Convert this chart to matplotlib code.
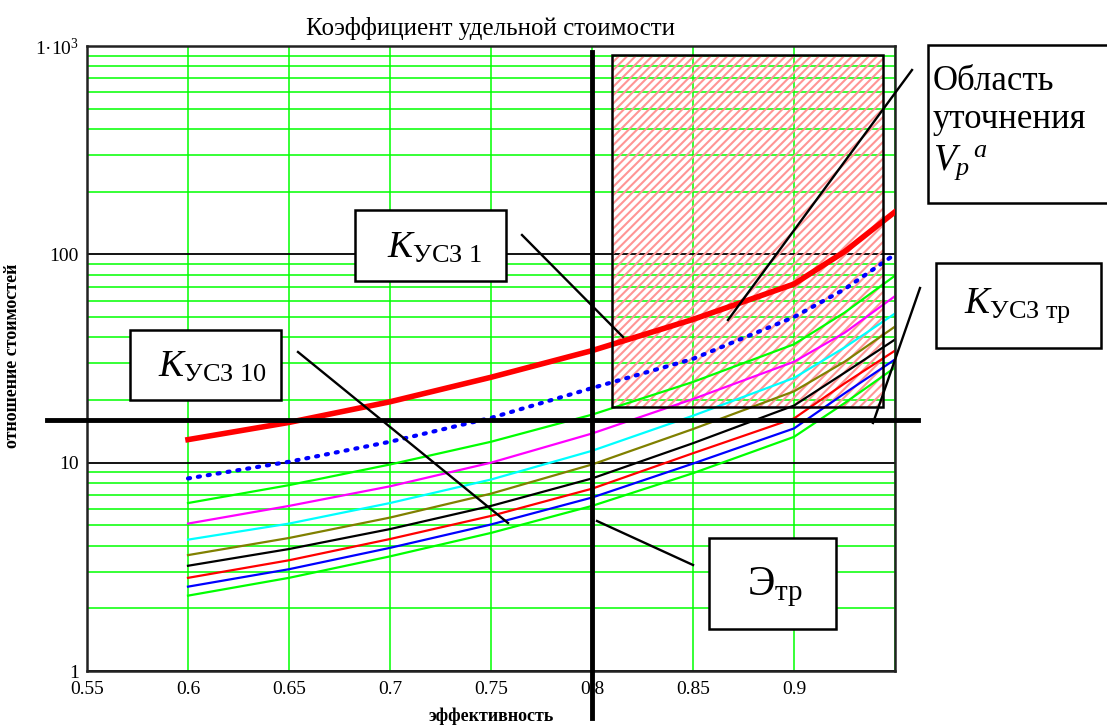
import matplotlib
matplotlib.use("Agg")
import matplotlib.pyplot as plt
from matplotlib.patches import Rectangle
from matplotlib.lines import Line2D
from matplotlib.ticker import LogLocator, NullFormatter, FixedLocator

plt.rcParams['font.family'] = ['Liberation Serif', 'DejaVu Serif']
plt.rcParams['mathtext.fontset'] = 'custom'
plt.rcParams['mathtext.rm'] = 'Liberation Serif'
plt.rcParams['mathtext.it'] = 'Liberation Serif:italic'
plt.rcParams['hatch.linewidth'] = 1.5

# data
eff = [0.6, 0.65, 0.7, 0.75, 0.8, 0.85, 0.9, 0.925, 0.95]
k1 = [12.9, 15.6, 19.6, 25.7, 34.5, 48.7, 72, 103, 160]
k2 = [8.4, 10.1, 12.6, 16.4, 22.8, 31.5, 50, 68, 100]
k3 = [6.4, 7.8, 9.8, 12.6, 17, 24.4, 37, 52.5, 79]
k4 = [5.1, 6.2, 7.7, 10, 13.8, 20.2, 30.5, 42, 63]
k5 = [4.27, 5.1, 6.4, 8.3, 11.4, 16.8, 25.5, 35.7, 52]
k6 = [3.6, 4.35, 5.45, 7.1, 9.8, 14.5, 22, 30.5, 45]
k7 = [3.2, 3.85, 4.8, 6.2, 8.4, 12.4, 18.8, 27, 39]
k8 = [2.8, 3.4, 4.3, 5.55, 7.5, 11.1, 16.3, 24, 34.5]
k9 = [2.54, 3.08, 3.9, 5.05, 6.8, 9.9, 14.6, 21.5, 31.3]
k10 = [2.3, 2.8, 3.55, 4.6, 6.2, 8.9, 13.3, 19.3, 28.6]

thin_curves = [k3, k4, k5, k6, k7, k8, k9, k10]
thin_colors = ['#00ff00', '#ff00ff', '#00ffff', '#808000', '#000000', '#ff0000', '#0000ff', '#00ff00']

eff_tr = 0.8          # required efficiency
k_tr = 16             # required coefficient
region_x = [0.81, 0.944]
region_y = [18.6, 910]

x_ticks = [0.55, 0.6, 0.65, 0.7, 0.75, 0.8, 0.85, 0.9, 0.95]
x_labels = ['0.55', '0.6', '0.65', '0.7', '0.75', '0.8', '0.85', '0.9', '']
y_ticks = [1, 10, 100, 1000]
y_labels = ['1', '10', '100', '1·10$^3$']

W, H = 1107, 726
fig = plt.figure(figsize=(W / 100, H / 100), dpi=100)
ax = fig.add_axes([87 / W, 1 - 671 / H, 808 / W, 625 / H])

ax.set_yscale('log')
ax.set_xlim(0.55, 0.95)
ax.set_ylim(1, 1000)
ax.xaxis.set_major_locator(FixedLocator(x_ticks))
ax.set_xticklabels(x_labels)
ax.yaxis.set_major_locator(FixedLocator(y_ticks))
ax.set_yticklabels(y_labels)
ax.yaxis.set_minor_locator(LogLocator(base=10, subs=range(2, 10)))
ax.yaxis.set_minor_formatter(NullFormatter())
ax.tick_params(which='both', length=0, labelsize=14)
ax.tick_params(axis='x', pad=7)
ax.tick_params(axis='y', pad=6)

ax.set_axisbelow(True)
ax.xaxis.grid(True, which='major', color='#00ff00', lw=1.1)
ax.yaxis.grid(True, which='minor', color='#00ff00', lw=1.1)
ax.yaxis.grid(True, which='major', color='black', lw=1.3)
for s in ax.spines.values():
    s.set_linewidth(1.8)
    s.set_color('#222222')

# hatched refinement region
rx0, rx1 = region_x
ry0, ry1 = region_y
ax.add_patch(Rectangle((rx0, ry0), rx1 - rx0, ry1 - ry0, facecolor='none',
                       edgecolor='#ff9595', hatch='////', lw=0, zorder=1))
ax.add_patch(Rectangle((rx0, ry0), rx1 - rx0, ry1 - ry0, facecolor='none',
                       edgecolor='black', lw=1.8, zorder=4))

for vals, c in zip(thin_curves, thin_colors):
    ax.plot(eff, vals, color=c, lw=1.6, zorder=2)
ax.plot(eff, k2, color='#0000ff', lw=3, ls=(0, (0.5, 1.9)),
        dash_capstyle='round', zorder=2)
ax.plot(eff, k1, color='#ff0000', lw=4, zorder=3)

ax.axhline(k_tr, xmin=-0.05, xmax=1.029, color='black', lw=3.5,
           clip_on=False, zorder=5)
ax.axvline(eff_tr, ymin=-0.075, ymax=0.99, color='black', lw=3.5,
           clip_on=False, zorder=5)

ax.set_title('Коэффициент удельной стоимости', fontsize=18, pad=8)
ax.set_xlabel('эффективность', fontsize=13, fontweight='bold')
ax.xaxis.set_label_coords(0.5, -0.058)
ax.set_ylabel('отношение стоимостей', fontsize=13, fontweight='bold')
ax.yaxis.set_label_coords(-0.082, 0.505)


def fp(x, y):
    return x / W, 1 - y / H


def box(x0, y0, x1, y1):
    a, b = fp(x0, y1)
    c, d = fp(x1, y0)
    fig.add_artist(Rectangle((a, b), c - a, d - b, transform=fig.transFigure,
                             facecolor='white', edgecolor='black', lw=1.8, zorder=6))


def leader(x0, y0, x1, y1):
    a, b = fp(x0, y0)
    c, d = fp(x1, y1)
    fig.add_artist(Line2D([a, c], [b, d], transform=fig.transFigure,
                          color='black', lw=1.7, zorder=7))


# annotation boxes
box(355, 210, 506, 281)
fig.text(*fp(387, 258), r'$K_{\mathrm{УСЗ\ 1}}$', fontsize=27, zorder=8)
leader(522, 235, 623, 337)

box(130, 330, 281, 400)
fig.text(*fp(158, 377), r'$K_{\mathrm{УСЗ\ 10}}$', fontsize=27, zorder=8)
leader(298, 352, 508, 523)

box(709, 538, 836, 629)
fig.text(*fp(747, 595), r'$\mathrm{Э}_{\mathrm{тр}}$', fontsize=30, zorder=8)
leader(597, 521, 693, 565)

box(928, 45, 1112, 203)
fig.text(*fp(933, 90), 'Область', fontsize=25, zorder=8)
fig.text(*fp(933, 128), 'уточнения', fontsize=25, zorder=8)
fig.text(*fp(933, 170), r'$V_{p}{}^{\,a}$', fontsize=27, zorder=8)
leader(912, 70, 728, 320)

box(936, 263, 1101, 348)
fig.text(*fp(964, 313), r'$K_{\mathrm{УСЗ\ тр}}$', fontsize=27, zorder=8)
leader(920, 288, 873, 423)

fig.savefig('out.png', dpi=100)
